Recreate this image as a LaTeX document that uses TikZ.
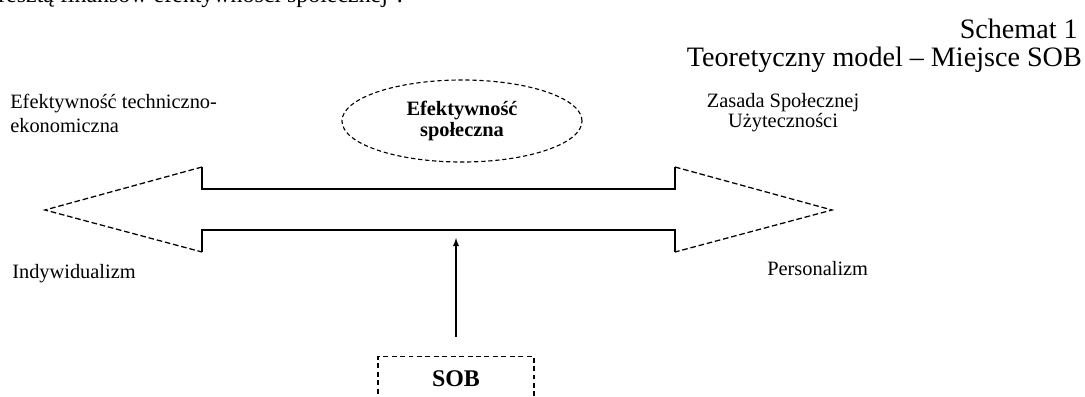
\documentclass[tikz,border=0pt]{standalone}
\usepackage{fontspec}
\setmainfont{Liberation Serif}
\usepackage{tikz}
\usetikzlibrary{arrows}
\usetikzlibrary{positioning}
\usetikzlibrary{math}
\usetikzlibrary{shapes.geometric, arrows}
\tikzstyle{plaintext} = [font=\fontsize{14.5}{17}\selectfont, inner sep=0pt]
\tikzstyle{heading} = [font=\fontsize{20}{24}\selectfont, inner sep=0pt, anchor=base east]
\tikzstyle{oval} = [ellipse, draw, dash pattern=on 3pt off 2pt, line width=0.8pt, minimum width=6cm, minimum height=2.05cm, inner sep=0pt, align=center, font=\fontsize{14.5}{15.6}\selectfont\bfseries]
\tikzstyle{sobbox} = [rectangle, draw, dash pattern=on 3.5pt off 2.5pt, line width=0.8pt, minimum width=3.9cm, minimum height=1.1cm, font=\fontsize{17}{20}\selectfont\bfseries]
\tikzstyle{headline} = [dash pattern=on 4pt off 2pt, line width=0.9pt]
\tikzstyle{arrow} = [->,>=latex, line width=1pt]

\begin{document}
\begin{tikzpicture}[x=0.025cm, y=-0.025cm]

  \tikzmath{\xl = 45; \xa = 202; \xb = 675; \xr = 832;}
  \tikzmath{\yt = 167; \ys = 189; \yd = 230; \yb = 252; \yl = 210;}
  \useasboundingbox (0,0) rectangle (1085,396);

  % page text
  \node[plaintext, font=\fontsize{17}{20}\selectfont, anchor=base west] (prev) at (-2,2) {resztą finansów efektywności społecznej\textsuperscript{4}.};
  \node[heading] (schem) at (1078,38) {Schemat 1};
  \node[heading] (title) at (1082,66) {Teoretyczny model -- Miejsce SOB};

  % labels
  \node[plaintext, align=left, anchor=base west] (tech) at (10,132) {Efektywność techniczno-\\ekonomiczna};
  \node[plaintext, align=center, anchor=base, font=\fontsize{14.5}{14.2}\selectfont] (zasada) at (783,127) {Zasada Społecznej\\Użyteczności};
  \node[plaintext, anchor=base west] (indyw) at (12,278) {Indywidualizm};
  \node[plaintext, anchor=base west] (person) at (767,275) {Personalizm};
  \node[oval] (efekt) at (462,121) {Efektywność\\społeczna};

  % double arrow
  \coordinate (ltip) at (\xl,\yl);
  \coordinate (rtip) at (\xr,\yl);
  \draw[headline] (\xa,\yt) -- (ltip) -- (\xa,\yb);
  \draw[headline] (\xb,\yt) -- (rtip) -- (\xb,\yb);
  \draw[line width=0.8pt] (\xa,\yt) -- (\xa,\ys) -- (\xb,\ys) -- (\xb,\yt);
  \draw[line width=0.8pt] (\xa,\yb) -- (\xa,\yd) -- (\xb,\yd) -- (\xb,\yb);

  % SOB
  \node[sobbox, anchor=north] (sob) at (456,356) {SOB};
  \coordinate (shaft) at (456,238);
  \draw[arrow] ([yshift=0.475cm]sob.north) -- (shaft);

\end{tikzpicture}
\end{document}
